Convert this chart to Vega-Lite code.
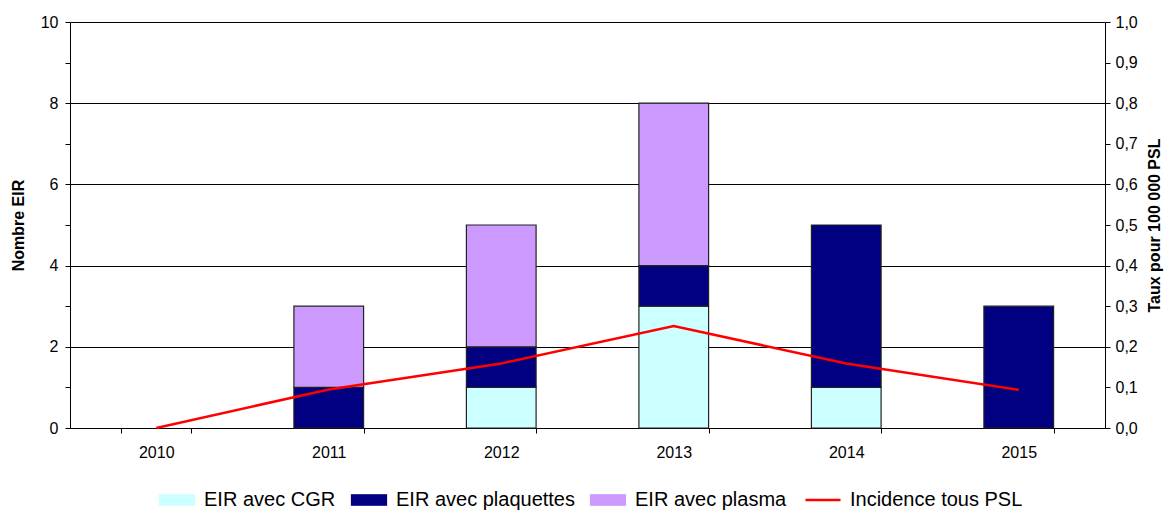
{
  "$schema": "https://vega.github.io/schema/vega-lite/v6.json",
  "width": 1035,
  "height": 406,
  "autosize": {"type": "none"},
  "padding": {"left": 70, "top": 22, "right": 62, "bottom": 85},
  "background": "white",
  "config": {
    "view": {"stroke": null},
    "font": "Liberation Sans",
    "axis": {
      "labelFont": "Liberation Sans",
      "titleFont": "Liberation Sans",
      "labelColor": "#000000",
      "titleColor": "#000000",
      "domainColor": "#000000",
      "tickColor": "#000000",
      "labelFontSize": 16,
      "titleFontSize": 16,
      "titleFontWeight": "bold"
    },
    "legend": {
      "labelFont": "Liberation Sans",
      "labelFontSize": 20,
      "labelColor": "#000000",
      "labelLimit": 0
    }
  },
  "datasets": {
    "eir": [
      {"annee": "2011", "serie": "EIR avec plaquettes", "rang": 2, "nombre": 1},
      {"annee": "2011", "serie": "EIR avec plasma", "rang": 3, "nombre": 2},
      {"annee": "2012", "serie": "EIR avec CGR", "rang": 1, "nombre": 1},
      {"annee": "2012", "serie": "EIR avec plaquettes", "rang": 2, "nombre": 1},
      {"annee": "2012", "serie": "EIR avec plasma", "rang": 3, "nombre": 3},
      {"annee": "2013", "serie": "EIR avec CGR", "rang": 1, "nombre": 3},
      {"annee": "2013", "serie": "EIR avec plaquettes", "rang": 2, "nombre": 1},
      {"annee": "2013", "serie": "EIR avec plasma", "rang": 3, "nombre": 4},
      {"annee": "2014", "serie": "EIR avec CGR", "rang": 1, "nombre": 1},
      {"annee": "2014", "serie": "EIR avec plaquettes", "rang": 2, "nombre": 4},
      {"annee": "2015", "serie": "EIR avec plaquettes", "rang": 2, "nombre": 3}
    ],
    "taux": [
      {"annee": "2010", "taux": 0.0},
      {"annee": "2011", "taux": 0.095},
      {"annee": "2012", "taux": 0.159},
      {"annee": "2013", "taux": 0.251},
      {"annee": "2014", "taux": 0.159},
      {"annee": "2015", "taux": 0.094}
    ]
  },
  "layer": [
    {
      "data": {"name": "eir"},
      "mark": {"type": "bar", "stroke": "#222222", "strokeWidth": 1.2},
      "encoding": {
        "x": {
          "field": "annee",
          "type": "ordinal",
          "scale": {
            "domain": ["2010", "2011", "2012", "2013", "2014", "2015"],
            "paddingInner": 0.596,
            "paddingOuter": 0.298
          },
          "axis": {
            "title": null,
            "labelAngle": 0,
            "tickBand": "extent",
            "tickSize": 5,
            "labelPadding": 11,
            "grid": false,
            "domainWidth": 1
          }
        },
        "y": {
          "field": "nombre",
          "type": "quantitative",
          "stack": "zero",
          "scale": {"domain": [0, 10], "nice": false},
          "axis": {
            "title": "Nombre EIR",
            "values": [0, 1, 2, 3, 4, 5, 6, 7, 8, 9, 10],
            "labelExpr": "datum.value % 2 === 0 ? datum.label : ''",
            "grid": true,
            "gridColor": "#000000",
            "gridOpacity": {"condition": {"test": "datum.value % 2 === 0", "value": 1}, "value": 0},
            "tickSize": 5,
            "labelPadding": 7,
            "titlePadding": 14
          }
        },
        "color": {
          "field": "serie",
          "type": "nominal",
          "scale": {
            "domain": ["EIR avec CGR", "EIR avec plaquettes", "EIR avec plasma", "Incidence tous PSL"],
            "range": ["#CCFFFF", "#000080", "#CC99FF", "#FF0000"]
          },
          "legend": {
            "title": null,
            "orient": "none",
            "legendX": 97,
            "legendY": 468,
            "direction": "horizontal",
            "columns": 4,
            "padding": 0,
            "columnPadding": 13,
            "labelOffset": 17,
            "labelLimit": 0,
            "symbolSize": 1225,
            "encode": {
              "symbols": {
                "update": {
                  "shape": {"signal": "datum.value === 'Incidence tous PSL' ? 'M-1,0H1' : 'M-1,-0.3H1V0.3H-1Z'"},
                  "stroke": {"signal": "datum.value === 'Incidence tous PSL' ? '#FF0000' : '#222222'"},
                  "strokeWidth": {"signal": "datum.value === 'Incidence tous PSL' ? 2.5 : 1.2"},
                  "fillOpacity": {"signal": "datum.value === 'Incidence tous PSL' ? 0 : 1"},
                  "strokeOpacity": {"value": 1},
                  "opacity": {"value": 1}
                }
              }
            }
          }
        },
        "order": {"field": "rang", "type": "quantitative"}
      }
    },
    {
      "data": {"name": "taux"},
      "mark": {"type": "line", "strokeWidth": 2.5},
      "encoding": {
        "x": {"field": "annee", "type": "ordinal"},
        "y": {
          "field": "taux",
          "type": "quantitative",
          "scale": {"domain": [0, 1], "nice": false},
          "axis": {
            "orient": "right",
            "title": "Taux pour 100 000 PSL",
            "titleAngle": 270,
            "values": [0, 0.1, 0.2, 0.3, 0.4, 0.5, 0.6, 0.7, 0.8, 0.9, 1.0],
            "labelExpr": "replace(format(datum.value, '.1f'), '.', ',')",
            "grid": false,
            "tickSize": 5,
            "labelPadding": 5,
            "titlePadding": 25
          }
        },
        "color": {
          "datum": "Incidence tous PSL",
          "legend": {
            "title": null,
            "orient": "none",
            "legendX": 97,
            "legendY": 468,
            "direction": "horizontal",
            "columns": 4,
            "padding": 0,
            "columnPadding": 13,
            "labelOffset": 17,
            "labelLimit": 0,
            "symbolSize": 1225,
            "encode": {
              "symbols": {
                "update": {
                  "shape": {"signal": "datum.value === 'Incidence tous PSL' ? 'M-1,0H1' : 'M-1,-0.3H1V0.3H-1Z'"},
                  "stroke": {"signal": "datum.value === 'Incidence tous PSL' ? '#FF0000' : '#222222'"},
                  "strokeWidth": {"signal": "datum.value === 'Incidence tous PSL' ? 2.5 : 1.2"},
                  "fillOpacity": {"signal": "datum.value === 'Incidence tous PSL' ? 0 : 1"},
                  "strokeOpacity": {"value": 1},
                  "opacity": {"value": 1}
                }
              }
            }
          }
        }
      }
    }
  ],
  "resolve": {"scale": {"y": "independent"}}
}
